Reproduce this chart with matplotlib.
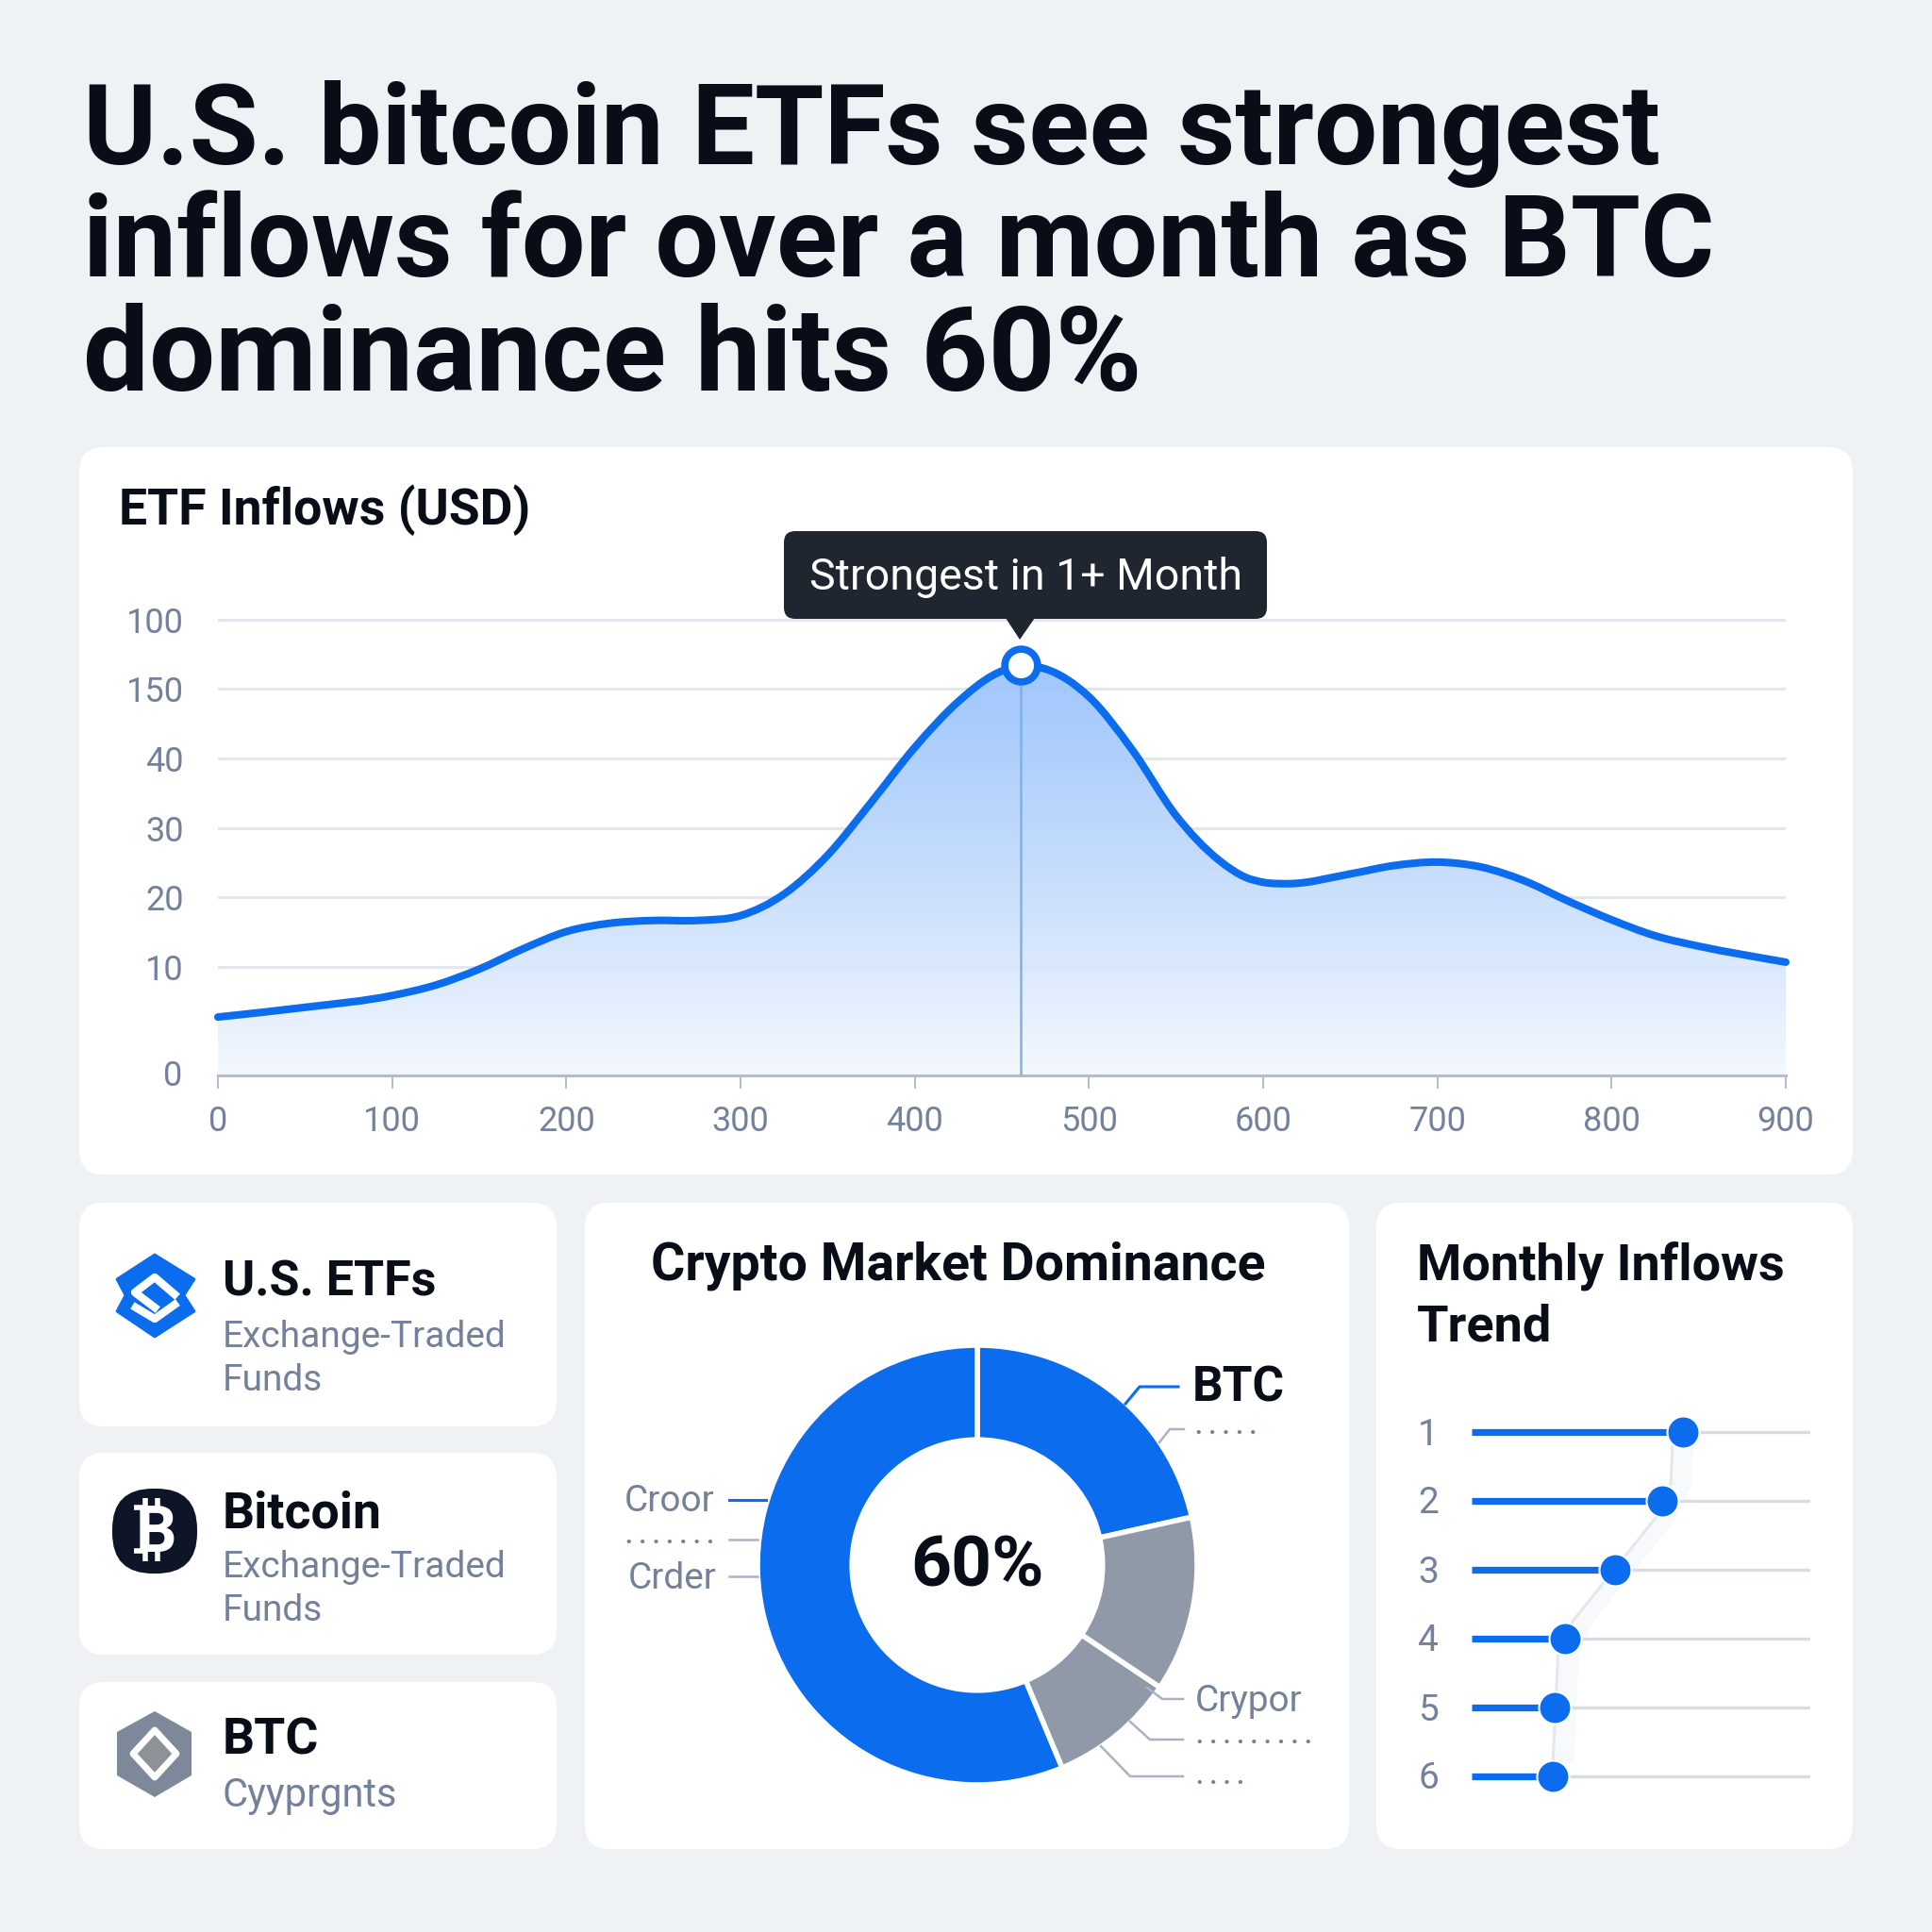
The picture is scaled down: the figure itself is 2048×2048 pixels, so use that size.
import numpy as np
import matplotlib
matplotlib.use('Agg')
import matplotlib.pyplot as plt
from matplotlib.patches import FancyBboxPatch, Polygon, PathPatch
from matplotlib.path import Path

FONT = 'Roboto'
INK = '#080d18'
SLATE = '#74819b'
BLUE = '#0b6cee'
GREY = '#8f99a8'
GRID = '#e3e7ed'
BG = '#eef2f5'

# main area chart, y in grid steps because the printed labels are not linear
x_vals = [0, 50, 100, 125, 150, 175, 200, 225, 250, 275, 300, 325, 350, 375, 400, 425, 445,
          461, 475, 500, 525, 550, 575, 590, 600, 615, 650, 675, 700, 725, 750, 775, 800, 825, 850, 875, 900]
y_vals = [0.84, 0.98, 1.15, 1.30, 1.53, 1.82, 2.07, 2.19, 2.23, 2.23, 2.30, 2.61, 3.17, 3.93, 4.72, 5.38, 5.76,
          5.90, 5.85, 5.45, 4.68, 3.74, 3.09, 2.85, 2.78, 2.76, 2.90, 3.02, 3.07, 3.00, 2.80, 2.51, 2.24, 2.01, 1.86, 1.74, 1.63]
x_ticks = [0, 100, 200, 300, 400, 500, 600, 700, 800, 900]
y_tick_pos = [0, 1.56, 2.56, 3.56, 4.56, 5.56, 6.56]
y_tick_labels = ['0', '10', '20', '30', '40', '150', '100']
peak_x = 461
peak_y = 5.90

# donut
dom_values = [21.5, 12.9, 9.3, 56.3]
dom_colors = [BLUE, GREY, GREY, BLUE]

# monthly lollipops
months = [1, 2, 3, 4, 5, 6]
month_vals = [62.4, 56.3, 42.4, 27.6, 24.5, 23.9]
trend_x = [59.3, 58.8, 54.3, 29.8, 25.5, 24.0]
trend_y = [1.2, 1.75, 2.25, 3.75, 4.25, 5.8]


def smooth(xs, ys):
    # bezier path running through the read points, tangents respect the uneven x spacing
    xs = np.array(xs, float)
    ys = np.array(ys, float)
    slope = np.gradient(ys, xs)
    verts = [(xs[0], ys[0])]
    codes = [Path.MOVETO]
    for i in range(len(xs) - 1):
        h = xs[i + 1] - xs[i]
        verts += [(xs[i] + h / 3, ys[i] + slope[i] * h / 3),
                  (xs[i + 1] - h / 3, ys[i + 1] - slope[i + 1] * h / 3),
                  (xs[i + 1], ys[i + 1])]
        codes += [Path.CURVE4] * 3
    return verts, codes


fig = plt.figure(figsize=(20.48, 20.48), dpi=100, facecolor=BG)


def px_axes(x0, y0, x1, y1, z=2):
    a = fig.add_axes([x0 / 2048, 1 - y1 / 2048, (x1 - x0) / 2048, (y1 - y0) / 2048], zorder=z)
    a.patch.set_alpha(0)
    return a


back = px_axes(0, 0, 2048, 2048, z=1)
back.set_xlim(0, 2048)
back.set_ylim(2048, 0)
back.axis('off')
front = px_axes(0, 0, 2048, 2048, z=5)
front.set_xlim(0, 2048)
front.set_ylim(2048, 0)
front.axis('off')


def card(x0, y0, x1, y1, r=26):
    back.add_patch(FancyBboxPatch((x0 + r, y0 + r), x1 - x0 - 2 * r, y1 - y0 - 2 * r,
                                  boxstyle='round,pad=%d,rounding_size=%d' % (r, r),
                                  fc='white', ec='none'))


def put(x, y, s, size, color=INK, weight='normal', ha='left', va='center', font=FONT):
    return front.text(x, y, s, fontsize=size, color=color, fontweight=weight, ha=ha, va=va, family=font)


card(84, 474, 1964, 1245)
card(84, 1275, 590, 1512)
card(84, 1540, 590, 1754)
card(84, 1783, 590, 1960)
card(620, 1275, 1430, 1960)
card(1459, 1275, 1964, 1960)

# headline
put(88, 174, 'U.S. bitcoin ETFs see strongest', 85.5, weight='bold', va='baseline')
put(88, 293, 'inflows for over a month as BTC', 86.4, weight='bold', va='baseline')
put(88, 414, 'dominance hits 60%', 89.5, weight='bold', va='baseline')

# area chart
ax = px_axes(231, 1140 - 7 * 73.66, 1893, 1140)
ax.set_xlim(0, 900)
ax.set_ylim(0, 7)
for s in ['top', 'left', 'right']:
    ax.spines[s].set_visible(False)
ax.spines['bottom'].set_color('#b4bccb')
ax.spines['bottom'].set_linewidth(2.2)
ax.set_xticks(x_ticks)
ax.set_xticklabels([str(t) for t in x_ticks], fontsize=26, color=SLATE, family=FONT)
ax.tick_params(axis='x', length=10, width=1.4, color='#b4bccb', pad=12)
ax.set_yticks(y_tick_pos[1:])
ax.set_yticklabels(y_tick_labels[1:], fontsize=26, color=SLATE, family=FONT)
ax.tick_params(axis='y', length=0, pad=26)
ax.grid(axis='y', color=GRID, lw=2.2)
ax.set_axisbelow(True)
front.text(193, 1141, y_tick_labels[0], fontsize=26, color=SLATE, family=FONT, ha='right', va='center')

v, c = smooth(x_vals, y_vals)
fill_path = Path(v + [(x_vals[-1], 0), (x_vals[0], 0), v[0]], c + [Path.LINETO, Path.LINETO, Path.CLOSEPOLY])
shade = np.zeros((256, 2, 4))
top_c = np.array(matplotlib.colors.to_rgb('#9cc5fb'))
low_c = np.array(matplotlib.colors.to_rgb('#f4f8fe'))
for i in range(256):
    t = (i / 255) ** 1.15
    shade[i, :, :3] = top_c * (1 - t) + low_c * t
    shade[i, :, 3] = 0.95
im = ax.imshow(shade, extent=(0, 900, 0, 5.9), aspect='auto', zorder=2)
im.set_clip_path(PathPatch(fill_path, transform=ax.transData))
ax.set_xlim(0, 900)
ax.set_ylim(0, 7)
ax.plot([peak_x, peak_x], [0, peak_y], color='#7fb0f0', lw=1.8, zorder=3)
ax.add_patch(PathPatch(Path(v, c), fc='none', ec=BLUE, lw=5.8, capstyle='round', zorder=4, clip_on=False))
ax.plot([peak_x], [peak_y], 'o', ms=25, mfc='white', mec=BLUE, mew=5.5, zorder=5, clip_on=False)

put(126, 541, 'ETF Inflows (USD)', 38.5, weight='bold')
front.add_patch(FancyBboxPatch((841, 573), 492, 73, boxstyle='round,pad=10,rounding_size=12', fc='#1f2630', ec='none'))
front.add_patch(Polygon([(1066, 655), (1097, 655), (1081, 678)], fc='#1f2630', ec='none'))
put(1087, 612, 'Strongest in 1+ Month', 33.5, color='white', ha='center')

# info cards
put(236, 1360, 'U.S. ETFs', 37.5, weight='bold')
put(236, 1417, 'Exchange-Traded', 28, color=SLATE)
put(236, 1463, 'Funds', 28, color=SLATE)
put(236, 1605, 'Bitcoin', 38.5, weight='bold')
put(236, 1661, 'Exchange-Traded', 28, color=SLATE)
put(236, 1708, 'Funds', 28, color=SLATE)
put(236, 1845, 'BTC', 38.5, weight='bold')
put(236, 1903, 'Cyyprgnts', 30, color=SLATE)

# icons
front.add_patch(Polygon([(164, 1330), (206, 1356), (195, 1373), (206, 1390), (164, 1417), (124, 1390), (133, 1373), (124, 1356)],
                        fc=BLUE, ec=BLUE, lw=2, joinstyle='round'))
front.plot([185, 164, 143, 164], [1372, 1354, 1370, 1386], color='white', lw=6)
front.plot([144, 164, 185], [1386, 1398, 1383], color='white', lw=6)
front.add_patch(FancyBboxPatch((150, 1609), 28, 28, boxstyle='round,pad=31,rounding_size=43', fc='#0d1526', ec='none'))
put(165, 1645, 'B', 49, color='white', weight='bold', ha='center', va='baseline')
for xx in [154, 167]:
    front.plot([xx, xx], [1588, 1600], color='white', lw=4, solid_capstyle='butt')
    front.plot([xx, xx], [1643, 1655], color='white', lw=4, solid_capstyle='butt')
front.plot([142, 152], [1598, 1598], color='white', lw=4, solid_capstyle='butt')
front.plot([142, 152], [1644, 1644], color='white', lw=4, solid_capstyle='butt')
front.add_patch(Polygon([(164, 1814), (203, 1836), (203, 1882), (164, 1905), (124, 1882), (124, 1836)], fc='#7d8899', ec='none'))
front.add_patch(Polygon([(164, 1834), (187, 1859), (164, 1884), (141, 1859)], fc='#8f9199', ec='white', lw=5, joinstyle='round'))

# donut
dax = px_axes(1036 - 233, 1659 - 233, 1036 + 233, 1659 + 233)
dax.pie(dom_values, colors=dom_colors, startangle=90, counterclock=False, radius=1.0,
        wedgeprops=dict(width=0.43, edgecolor='white', linewidth=4))
dax.set_xlim(-1, 1)
dax.set_ylim(-1, 1)
put(1036, 1662, '60%', 54, weight='bold', ha='center')
put(1016, 1342, 'Crypto Market Dominance', 40, weight='bold', ha='center')
put(1264, 1472, 'BTC', 37, weight='bold')
put(757, 1592, 'Croor', 28, color=SLATE, ha='right')
put(760, 1673, 'Crder', 28, color=SLATE, ha='right')
put(1267, 1803, 'Crypor', 28, color=SLATE)
put(1267, 1520, '. . . . .', 19, color=SLATE, weight='bold', va='baseline')
put(757, 1636, '. . . . . . .', 19, color=SLATE, weight='bold', ha='right', va='baseline')
put(1268, 1848, '. . . . . . . . .', 19, color=SLATE, weight='bold', va='baseline')
put(1268, 1891, '. . . .', 19, color=SLATE, weight='bold', va='baseline')
lead = '#aab3c2'
front.plot([1193, 1208, 1249], [1488, 1470, 1470], color=BLUE, lw=2.2)
front.plot([1229, 1240, 1255], [1529, 1515, 1515], color=lead, lw=1.8)
front.plot([773, 812], [1590, 1590], color=BLUE, lw=2.2)
front.plot([773, 803], [1632, 1632], color=lead, lw=1.8)
front.plot([773, 803], [1671, 1671], color=lead, lw=1.8)
front.plot([1216, 1232, 1254], [1789, 1801, 1801], color=lead, lw=1.8)
front.plot([1198, 1219, 1254], [1825, 1844, 1844], color=lead, lw=1.8)
front.plot([1167, 1198, 1254], [1851, 1883, 1883], color=lead, lw=1.8)

# lollipops
put(1502, 1342, 'Monthly Inflows', 39, weight='bold')
put(1502, 1407, 'Trend', 39, weight='bold')
lax = px_axes(1560, 1518 - 36.5, 1919, 1883 + 36.5)
lax.set_xlim(0, 100)
lax.set_ylim(6.5, 0.5)
lax.axis('off')
lax.fill_betweenx(trend_y, trend_x, np.array(trend_x) + 6, color='#f8f9fa', lw=0, zorder=1)
lax.plot(trend_x, trend_y, color='#e4e7eb', lw=2.2, zorder=2)
lax.hlines(months, month_vals, 100, color='#d9dde3', lw=2.4, zorder=2)
lax.hlines(months, 0, month_vals, color=BLUE, lw=5.2, zorder=3)
lax.scatter(month_vals, months, s=(17 * 2 * 0.72) ** 2, color=BLUE, zorder=4, clip_on=False,
            edgecolor='white', linewidth=1.5)
for m, ypx in zip(months, np.linspace(1518, 1883, 6)):
    put(1514, ypx + 3, str(m), 28, color=SLATE, ha='center')

fig.savefig('out.png', dpi=100, facecolor=BG)
